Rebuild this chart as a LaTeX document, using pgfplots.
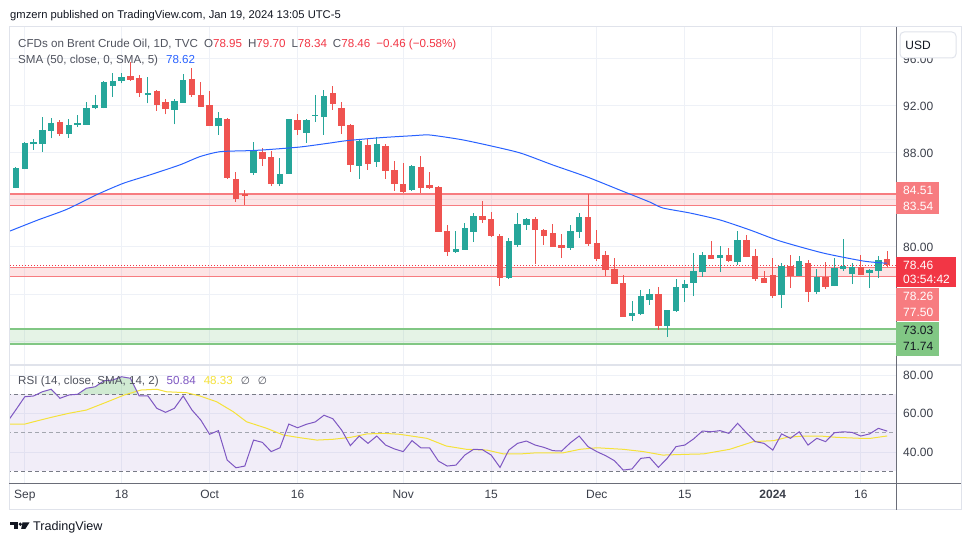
\documentclass[border=0pt]{standalone}
\usepackage{pgfplots}
\pgfplotsset{compat=1.18}
\usepackage{pgfplotstable}
\usepackage{fontspec}
\setmainfont{Liberation Sans}
\newfontfamily\dejavu{DejaVu Sans}
\definecolor{up}{HTML}{26A69A}
\definecolor{dn}{HTML}{EF5350}
\definecolor{sma}{HTML}{2962FF}
\definecolor{rsi}{HTML}{7E57C2}
\definecolor{rsima}{HTML}{F5E23A}
\definecolor{zr}{HTML}{F77C80}
\definecolor{zg}{HTML}{81C784}
\definecolor{gridc}{HTML}{EEF1F7}
\definecolor{txt}{HTML}{131722}
\definecolor{lg}{HTML}{50535E}
\definecolor{tick}{HTML}{3B3F4A}
\definecolor{dashc}{HTML}{787B86}
\definecolor{dashl}{HTML}{A3A6AF}
\definecolor{priceR}{HTML}{F23645}
\definecolor{framec}{HTML}{E0E3EB}
\definecolor{axc}{HTML}{6A6D78}
\definecolor{obg}{HTML}{66BB6A}

\pgfplotstableread{
i o h l c
-1 84.80 85.20 84.70 85.05
0 85.05 86.80 85.00 86.75
1 86.66 88.90 86.60 88.85
2 88.74 89.19 88.26 88.96
3 88.80 91.06 88.11 89.96
4 89.90 90.95 89.25 90.55
6 89.59 90.87 89.30 90.38
7 90.41 91.23 90.19 90.58
8 90.41 92.34 90.41 91.83
9 91.83 92.94 91.72 92.09
10 91.83 94.13 91.80 94.07
11 93.73 94.78 92.79 94.13
12 94.15 94.78 93.93 94.50
15 92.94 94.47 92.23 93.13
18 91.69 92.62 90.44 92.40
19 92.28 94.72 92.28 94.21
23 90.27 91.49 89.53 90.98
27 86.32 88.96 86.13 88.17
30 85.36 87.57 85.19 86.21
31 86.24 90.89 86.24 90.89
33 89.70 90.89 88.85 90.81
34 91.17 92.94 90.66 91.26
35 91.06 93.36 89.53 92.85
39 86.92 89.19 85.81 89.02
41 87.23 89.36 86.81 88.77
45 84.88 86.98 84.77 86.89
50 79.60 81.39 79.51 79.83
51 79.77 82.04 79.77 81.62
52 81.30 82.89 80.45 82.64
56 77.39 80.77 77.30 80.51
57 80.17 82.89 80.00 81.96
58 81.87 82.47 81.45 82.38
63 79.94 81.87 79.77 81.36
64 81.30 82.89 80.77 82.55
70 74.15 75.40 73.70 74.40
71 74.30 76.34 74.21 75.83
72 75.49 76.43 75.09 76.00
74 73.28 74.64 72.37 74.64
75 74.55 77.28 74.50 76.60
76 76.51 77.19 75.32 76.85
77 76.94 79.49 75.83 77.96
78 77.87 79.57 77.45 79.32
80 79.06 80.09 77.87 79.32
82 78.72 81.36 78.47 80.60
87 75.91 78.64 74.81 78.38
89 77.53 79.23 77.53 78.81
91 76.17 78.13 76.00 77.45
93 76.68 79.06 76.68 78.21
94 78.13 80.68 77.96 78.38
95 77.70 78.64 76.85 78.30
97 77.79 78.13 76.51 78.04
98 77.96 79.23 77.36 78.89
}\candleup

\pgfplotstableread{
i o h l c
5 90.66 90.78 89.45 89.62
13 94.58 95.72 94.13 94.21
14 94.38 94.64 92.79 93.08
16 93.28 93.36 91.60 92.11
17 92.31 92.60 91.29 91.74
20 94.32 95.20 92.79 92.96
21 92.94 94.04 91.94 91.94
22 92.06 93.28 90.32 90.32
24 90.92 91.00 85.81 85.90
25 85.79 86.38 83.86 84.06
26 84.49 84.85 83.57 84.34
28 88.09 88.40 86.89 87.49
29 87.66 88.20 85.19 85.36
32 90.81 91.32 89.53 89.96
36 93.11 93.70 91.66 92.17
37 91.83 92.34 89.62 90.32
38 90.38 90.47 86.41 87.00
40 88.68 89.19 86.58 87.06
42 88.60 88.77 85.81 86.49
43 86.55 87.34 84.79 85.39
44 85.36 87.15 84.62 84.71
46 86.81 87.74 84.62 85.05
47 85.28 86.38 84.94 85.05
48 85.11 85.19 81.30 81.30
49 81.36 81.87 79.26 79.60
53 82.64 83.91 82.07 82.32
54 82.38 82.98 80.85 80.94
55 80.94 81.11 76.71 77.39
59 82.38 82.55 78.55 81.47
60 81.45 81.53 80.17 80.94
61 81.19 81.96 80.00 80.00
62 80.17 81.11 79.06 79.94
65 82.55 84.51 80.11 80.28
66 80.34 81.45 78.81 78.98
67 79.32 79.66 77.50 78.07
68 78.13 79.06 76.85 76.88
69 76.94 77.62 74.07 74.07
73 76.00 76.60 72.96 73.28
79 79.32 80.51 78.98 78.98
81 79.32 79.91 78.72 78.81
83 80.60 81.02 79.15 79.15
84 79.23 79.83 77.11 77.28
85 77.36 77.96 76.94 76.94
86 77.62 79.06 75.66 75.83
88 78.38 79.32 76.51 77.53
90 78.64 78.89 75.32 76.17
92 77.45 78.72 76.43 76.60
96 78.30 79.32 77.62 77.62
99 78.95 79.70 78.34 78.46
}\candledn

\pgfplotstableread{
i r
-1 55.5
0 62.0
1 68.7
2 69.1
3 71.3
4 72.6
5 67.9
6 69.6
7 70.0
8 73.1
9 73.9
10 77.0
11 77.4
12 79.1
13 78.3
14 69.1
15 69.1
16 62.7
17 60.6
18 62.7
19 69.1
20 61.8
21 56.6
22 49.2
23 51.1
24 35.8
25 31.8
26 32.7
27 46.2
28 45.0
29 40.2
30 42.2
31 54.5
32 52.6
33 54.4
34 55.6
35 59.1
36 57.3
37 51.4
38 43.3
39 48.3
40 44.5
41 48.3
42 43.6
43 41.6
44 40.2
45 45.9
46 42.2
47 42.2
48 35.3
49 32.7
50 33.2
51 38.4
52 41.4
53 41.2
54 38.4
55 32.0
56 41.0
57 44.5
58 45.7
59 43.6
60 42.4
61 40.7
62 40.5
63 44.8
64 48.3
65 42.8
66 40.2
67 38.1
68 35.5
69 30.6
70 31.2
71 36.7
72 37.2
73 32.0
74 36.7
75 42.8
76 43.6
77 46.8
78 50.9
79 50.5
80 51.1
81 49.7
82 54.9
83 50.0
84 45.4
85 44.5
86 41.0
87 49.4
88 47.1
89 50.5
90 43.6
91 47.1
92 45.4
93 50.0
94 50.5
95 50.2
96 48.3
97 49.4
98 52.3
99 50.84
}\rsidata

\pgfplotstableread{
i r
-1 54.5
1 54.5
2 55.7
4 58.0
6 60.1
8 61.8
10.4 66.1
12.3 69.6
14.2 72.2
16 72.6
17.1 71.3
19.4 70.8
20.9 69.1
22.8 66.1
24.7 60.9
26.2 55.7
28.5 52.3
30.4 48.8
32.3 47.4
34.2 46.2
36 46.6
38 47.6
39.9 49.4
41.8 49.7
43.6 49.2
46.7 47.1
48.9 43.1
51.2 41.4
53.5 41.0
55.4 39.0
57.3 39.0
59.2 39.6
62.2 39.6
64.1 41.4
66 42.2
69 41.4
71.3 40.2
73.5 38.4
76.2 38.8
78.1 39.0
81.1 41.4
83.8 45.4
86.1 45.9
87.6 47.6
89.5 48.3
91.4 48.3
93.3 47.6
96 47.1
97.1 47.1
99 48.33
}\rsima

\begin{document}
\begin{tikzpicture}
\path[fill=white] (0,0) rectangle (970pt,545pt);

% ---------------- price pane ----------------
\begin{axis}[at={(10pt,180pt)}, anchor=south west,
  width=886pt, height=338pt, scale only axis,
  xmin=-0.68, xmax=100, ymin=69.96, ymax=98.72,
  axis line style={draw=none}, tick style={draw=none}, major tick length=0pt,
  xtick={1,12,22,32,44,54,66,76,86,96}, xticklabels={},
  ytick={72,76,80,84,88,92,96},
  yticklabels={,,80.00,,88.00,92.00,96.00},
  yticklabel pos=right,
  yticklabel style={font=\fontsize{12}{12}\selectfont, text=tick, anchor=west, inner sep=0pt, xshift=7pt},
  grid=major, major grid style={draw=gridc, line width=1pt},
]
% zones
\addplot[draw=none, fill=zr, fill opacity=0.2] coordinates {(-1,83.54) (101,83.54) (101,84.51) (-1,84.51)};
\addplot[draw=none, fill=zr, fill opacity=0.2] coordinates {(-1,77.50) (101,77.50) (101,78.26) (-1,78.26)};
\addplot[draw=none, fill=zg, fill opacity=0.2] coordinates {(-1,71.74) (101,71.74) (101,73.03) (-1,73.03)};
\addplot[zr, line width=1.6pt] coordinates {(-1,84.51) (101,84.51)};
\addplot[zr, line width=1.6pt] coordinates {(-1,83.54) (101,83.54)};
\addplot[zr, line width=1.6pt] coordinates {(-1,78.26) (101,78.26)};
\addplot[zr, line width=1.6pt] coordinates {(-1,77.50) (101,77.50)};
\addplot[zg, line width=1.6pt] coordinates {(-1,73.03) (101,73.03)};
\addplot[zg, line width=1.6pt] coordinates {(-1,71.74) (101,71.74)};
\addplot[priceR, line width=0.8pt, dash pattern=on 1pt off 2pt] coordinates {(-1,78.46) (101,78.46)};
% wicks
\addplot[draw=none, mark=none, error bars/.cd, y dir=plus, y explicit, error mark=none,
  error bar style={draw=up, line width=1pt}]
  table[x=i, y=l, y error expr=\thisrow{h}-\thisrow{l}] {\candleup};
\addplot[draw=none, mark=none, error bars/.cd, y dir=plus, y explicit, error mark=none,
  error bar style={draw=dn, line width=1pt}]
  table[x=i, y=l, y error expr=\thisrow{h}-\thisrow{l}] {\candledn};
% bodies
\addplot[draw=none, mark=none, error bars/.cd, y dir=plus, y explicit, error mark=none,
  error bar style={draw=up, line width=6.4pt}]
  table[x=i, y=o, y error expr={max(\thisrow{c}-\thisrow{o},0.09)}] {\candleup};
\addplot[draw=none, mark=none, error bars/.cd, y dir=plus, y explicit, error mark=none,
  error bar style={draw=dn, line width=6.4pt}]
  table[x=i, y=c, y error expr={max(\thisrow{o}-\thisrow{c},0.09)}] {\candledn};
% SMA 50
\addplot[sma, line width=1pt, smooth, tension=0.4] coordinates {
(-0.68,81.36)(2.5,82.3)(5.76,83.2)(9.17,84.45)(12.2,85.42)(15.2,86.13)(18.6,86.98)(20.9,87.69)
(23.2,88.11)(26.6,88.2)(28.5,88.28)(32.3,88.51)(35.7,88.85)(37.6,89.05)(41.4,89.3)(45.1,89.47)
(47,89.53)(50.5,89.15)(53.5,88.68)(57.3,88.0)(61,86.98)(64.9,85.96)(68.6,84.85)(72,83.83)
(73.5,83.32)(76.6,82.89)(80,82.3)(83.4,81.45)(86.8,80.51)(91.7,79.49)(96.25,78.81)(98.5,78.64)(99,78.62)};
\end{axis}

% ---------------- RSI pane ----------------
\begin{axis}[at={(10pt,62pt)}, anchor=south west,
  width=886pt, height=118pt, scale only axis,
  xmin=-0.68, xmax=100, ymin=23.9, ymax=85.2,
  axis line style={draw=none}, tick style={draw=none}, major tick length=0pt,
  xtick={1,12,22,32,44,54,66,76,86,96},
  xticklabels={Sep,18,Oct,16,Nov,15,Dec,15,\textbf{2024},16},
  xticklabel style={font=\fontsize{12}{12}\selectfont, text=tick, anchor=base, inner sep=0pt, yshift=-15.5pt},
  ytick={40,60,80}, yticklabels={40.00,60.00,80.00},
  yticklabel pos=right,
  yticklabel style={font=\fontsize{12}{12}\selectfont, text=tick, anchor=west, inner sep=0pt, xshift=7pt},
  grid=major, major grid style={draw=gridc, line width=1pt},
]
\addplot[draw=none, fill=rsi, fill opacity=0.1] coordinates {(-1,30) (101,30) (101,70) (-1,70)};
\addplot[draw=none, fill=obg, fill opacity=0.3] coordinates {(7,70)(8,73.1)(9,73.9)(10,77.0)(11,77.4)(12,79.1)(13,78.3)(13.9,70)};
\addplot[draw=none, fill=obg, fill opacity=0.2] coordinates {(2.4,70)(3,71.3)(4,72.6)(4.55,70)};
\addplot[dashc, line width=0.8pt, dash pattern=on 4pt off 3pt] coordinates {(-1,70) (101,70)};
\addplot[dashl, line width=0.8pt, dash pattern=on 4pt off 3pt] coordinates {(-1,50) (101,50)};
\addplot[dashc, line width=0.8pt, dash pattern=on 4pt off 3pt] coordinates {(-1,30) (101,30)};
\addplot[rsima, line width=1pt] table[x=i, y=r] {\rsima};
\addplot[rsi, line width=1pt] table[x=i, y=r] {\rsidata};
\end{axis}

% ---------------- overlays (pixel coordinates) ----------------
\begin{scope}[x=1pt, y=-1pt, yshift=545pt]
\draw[framec, line width=1pt] (9,27) rectangle (961,510);
\draw[framec, line width=1.5pt] (9,365) -- (961,365);
\draw[axc, line width=0.9pt] (9,483) -- (961,483);
\draw[axc, line width=0.9pt] (896,27) -- (896,510);

% header
\node[anchor=base west, inner sep=0pt, font=\fontsize{11.2}{13}\selectfont, text=txt] at (10,18.5)
  {gmzern published on TradingView.com, Jan 19, 2024 13:05 UTC-5};
% legends
\node[anchor=base west, inner sep=0pt, font=\fontsize{11.6}{13}\selectfont, text=lg] at (18,47.5)
  {CFDs on Brent Crude Oil, 1D, TVC\hspace{6pt}O\textcolor{priceR}{78.95}\hspace{6pt}H\textcolor{priceR}{79.70}\hspace{6pt}L\textcolor{priceR}{78.34}\hspace{6pt}C\textcolor{priceR}{78.46\hspace{6pt}−0.46 (−0.58\%)}};
\node[anchor=base west, inner sep=0pt, font=\fontsize{11.6}{13}\selectfont, text=lg] at (18,63.5)
  {SMA (50, close, 0, SMA, 5)\hspace{8pt}\textcolor{sma}{78.62}};
\node[anchor=base west, inner sep=0pt, font=\fontsize{11.6}{13}\selectfont, text=lg] at (18,384.5)
  {RSI (14, close, SMA, 14, 2)\hspace{8pt}\textcolor{rsi}{50.84}\hspace{8pt}\textcolor{rsima}{48.33}\hspace{8pt}{\dejavu\fontsize{10.5}{12}\selectfont ∅\hspace{8pt}∅}};

% USD button
\draw[framec, fill=white, line width=1pt, rounded corners=4pt] (900,32) rectangle (956,58);
\node[font=\fontsize{12}{12}\selectfont, text=txt, inner sep=0pt] at (918,45) {USD};

% price tags
\fill[zr] (896,182) rectangle (939,214);
\node[anchor=base west, inner sep=0pt, font=\fontsize{12}{12}\selectfont, text=white] at (903,194.5) {84.51};
\node[anchor=base west, inner sep=0pt, font=\fontsize{12}{12}\selectfont, text=white] at (903,210.5) {83.54};
\fill[priceR] (896,257) rectangle (956,287);
\node[anchor=base west, inner sep=0pt, font=\fontsize{12}{12}\selectfont, text=white] at (903,269.5) {78.46};
\node[anchor=base west, inner sep=0pt, font=\fontsize{12}{12}\selectfont, text=white] at (903,283.5) {03:54:42};
\fill[zr] (896,288) rectangle (939,321);
\node[anchor=base west, inner sep=0pt, font=\fontsize{12}{12}\selectfont, text=white] at (903,300.5) {78.26};
\node[anchor=base west, inner sep=0pt, font=\fontsize{12}{12}\selectfont, text=white] at (903,316.5) {77.50};
\fill[zg] (896,322) rectangle (939,356);
\node[anchor=base west, inner sep=0pt, font=\fontsize{12}{12}\selectfont, text=txt] at (903,334.5) {73.03};
\node[anchor=base west, inner sep=0pt, font=\fontsize{12}{12}\selectfont, text=txt] at (903,350.5) {71.74};

% TradingView logo
\fill[txt] (10,522.5) rectangle (17.5,525.5);
\fill[txt] (14,522.5) rectangle (17.5,529);
\fill[txt] (20.3,524.2) circle (1.8);
\fill[txt] (22.5,522.5) -- (29.5,522.5) -- (25.3,529) -- (21.2,529) -- cycle;
\node[anchor=base west, inner sep=0pt, font=\fontsize{12.6}{14}\selectfont, text=txt] at (33,531) {TradingView};
\end{scope}
\end{tikzpicture}
\end{document}
